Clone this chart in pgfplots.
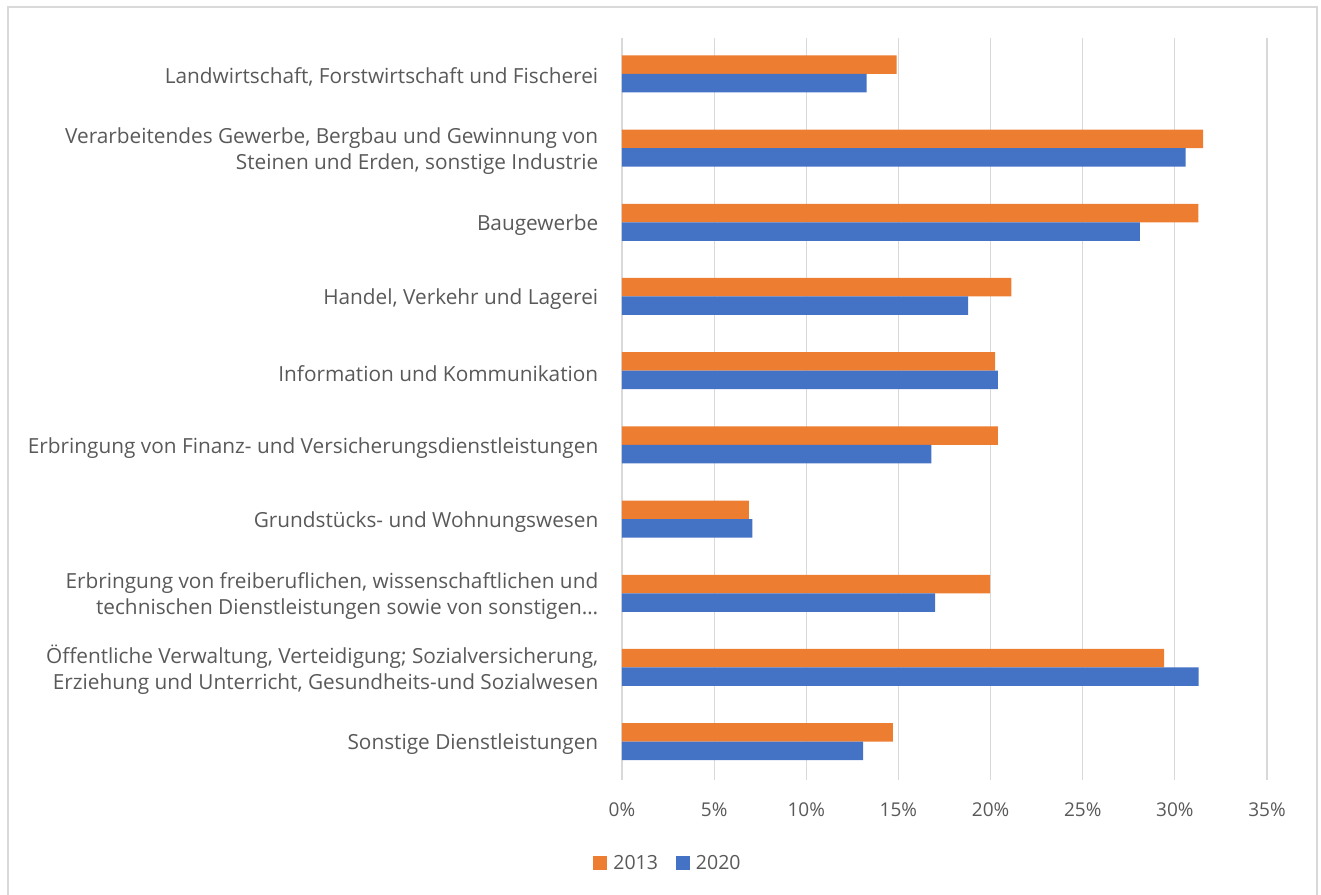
\documentclass[border=0pt]{standalone}
\usepackage{fontspec}
\setmainfont{Open Sans}
\usepackage{pgfplots}
\pgfplotsset{compat=1.18}
\definecolor{cOrange}{HTML}{ED7D31}
\definecolor{cBlue}{HTML}{4472C4}
\definecolor{cText}{HTML}{595959}
\definecolor{cGrid}{HTML}{D9D9D9}
\begin{document}
\begin{tikzpicture}
\useasboundingbox (-622bp,-115bp) rectangle (699bp,780bp);
\draw[cGrid,line width=1.2bp] (-614bp,-130bp) -- (-614bp,773bp) -- (695bp,773bp) -- (695bp,-130bp);
\begin{axis}[
  at={(0,0)}, anchor=south west,
  scale only axis,
  width=645bp, height=742bp,
  xbar, bar width=18.5bp,
  xmin=0, xmax=35,
  ymin=-0.5, ymax=9.5,
  y dir=reverse,
  axis line style={draw=none},
  xtick={0,5,...,35},
  xticklabel={\pgfmathprintnumber{\tick}\%},
  /pgf/number format/assume math mode=true,
  xmajorgrids, major grid style={cGrid,line width=1.2bp},
  tick style={draw=none},
  ytick={0,...,9},
  yticklabels={
    {Landwirtschaft, Forstwirtschaft und Fischerei},
    {Verarbeitendes Gewerbe, Bergbau und Gewinnung von\\Steinen und Erden, sonstige Industrie},
    {Baugewerbe},
    {Handel, Verkehr und Lagerei},
    {Information und Kommunikation},
    {Erbringung von Finanz- und Versicherungsdienstleistungen},
    {Grundstücks- und Wohnungswesen},
    {Erbringung von freiberuflichen, wissenschaftlichen und\\technischen Dienstleistungen sowie von sonstigen…},
    {Öffentliche Verwaltung, Verteidigung; Sozialversicherung,\\Erziehung und Unterricht, Gesundheits-und Sozialwesen},
    {Sonstige Dienstleistungen}},
  yticklabel style={align=right, font=\fontsize{20.8bp}{26bp}\selectfont, text=cText, xshift=-16bp, yshift=-1.5bp},
  xticklabel style={font=\fontsize{19bp}{23bp}\selectfont, text=cText, yshift=-19bp},
  legend style={at={(0.0713,-0.1125)}, anchor=center, draw=none, fill=none,
    legend columns=-1, font=\fontsize{19.5bp}{23bp}\selectfont, text=cText,
    /tikz/every odd column/.append style={column sep=4bp},
    /tikz/every even column/.append style={column sep=16bp}},
  legend image code/.code={\fill[#1] (0bp,-7bp) rectangle (14bp,7bp);},
]
\addplot[fill=cOrange, draw=none, bar shift=10.5bp] coordinates {
(14.9,0) (31.54,1) (31.27,2) (21.13,3) (20.25,4) (20.4,5) (6.88,6) (19.98,7) (29.42,8) (14.7,9)};
\addplot[fill=cBlue, draw=none, bar shift=-8bp] coordinates {
(13.28,0) (30.59,1) (28.1,2) (18.78,3) (20.4,4) (16.79,5) (7.07,6) (16.99,7) (31.29,8) (13.08,9)};
\legend{2013,2020}
\end{axis}
\end{tikzpicture}
\end{document}
